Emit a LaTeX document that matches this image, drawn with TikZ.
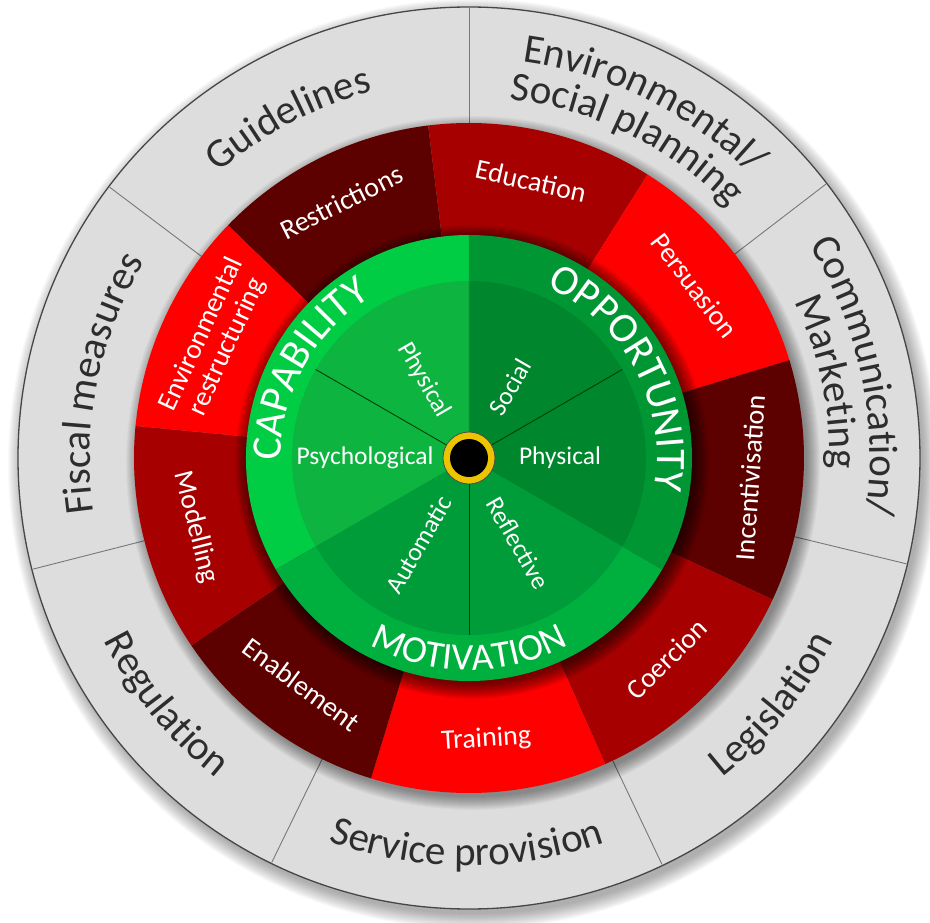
\documentclass[tikz,border=0pt]{standalone}
\usepackage{fontspec}
\setmainfont{Carlito}
\usetikzlibrary{decorations.text}
\definecolor{greyring}{RGB}{221,221,221}
\definecolor{greyedge}{RGB}{70,70,70}
\definecolor{sepgrey}{RGB}{120,120,120}
\definecolor{rdark}{RGB}{92,0,0}
\definecolor{rmed}{RGB}{166,0,0}
\definecolor{rbright}{RGB}{255,0,0}
\definecolor{capband}{RGB}{0,204,68}
\definecolor{capin}{RGB}{14,180,64}
\definecolor{oppband}{RGB}{0,150,52}
\definecolor{oppin}{RGB}{0,134,44}
\definecolor{motband}{RGB}{0,176,62}
\definecolor{motin}{RGB}{0,156,58}
\definecolor{txtdark}{RGB}{45,45,45}
\definecolor{dotyellow}{RGB}{236,196,0}
\newcommand{\olfont}{\fontsize{41}{41}\selectfont\color{txtdark}}
\newcommand{\bdfont}{\fontsize{42}{42}\selectfont\color{white}}
\newcommand{\mtfont}{\fontsize{38}{38}\selectfont\color{white}}
\newcommand{\annsector}[5]{\fill[#5] (#1:#3) arc[start angle=#1,end angle=#2,radius=#3] -- (#2:#4) arc[start angle=#2,end angle=#1,radius=#4] -- cycle;}
\begin{document}
\begin{tikzpicture}[x=1pt,y=1pt,
  redlbl/.style={text=white,font=\fontsize{28}{29}\selectfont,inner sep=0pt,align=center},
  inlbl/.style={text=white,font=\fontsize{25.5}{26}\selectfont,inner sep=0pt},
  sepline/.style={draw=sepgrey,line width=0.9pt},
  inline/.style={draw=black!75!green,line width=0.9pt},
  curved/.style={decorate,decoration={text along path,text align=center,text={#1}}}]
\useasboundingbox (-469,-464) rectangle (461,458);
% outer shadow
\foreach \k in {1,...,16} \fill[black,opacity=0.022] (4,-6) circle (449+\k);
% grey ring
\fill[greyring] (0,0) circle (451);
\draw[greyedge,line width=1.3pt] (0,0) circle (451);
% separators
\foreach \a in {90,37.5,-13.6,-64.6,-116,-165.7,143}
  \draw[sepline] (\a:335) -- (\a:450);
% red ring shadow
\foreach \k in {1,...,14} \fill[black,opacity=0.03] (4,-5) circle (333+\k);
% red ring
\annsector{136}{97}{120}{335}{rdark}
\annsector{97}{57.8}{120}{335}{rmed}
\annsector{57.8}{17}{120}{335}{rbright}
\annsector{17}{-25}{120}{335}{rdark}
\annsector{-25}{-66}{120}{335}{rmed}
\annsector{-66}{-107}{120}{335}{rbright}
\annsector{-107}{-146}{120}{335}{rdark}
\annsector{-146}{-185.5}{120}{335}{rmed}
\annsector{174.5}{136}{120}{335}{rbright}
% green shadow
\foreach \k in {1,...,16} \fill[black,opacity=0.045] (3,-4) circle (221+\k);
% green bands
\annsector{90}{210}{0}{223}{capband}
\annsector{-30}{90}{0}{223}{oppband}
\annsector{210}{330}{0}{223}{motband}
\annsector{90}{210}{0}{177}{capin}
\annsector{-30}{90}{0}{177}{oppin}
\annsector{210}{330}{0}{177}{motin}
\draw[inline] (0,0) -- (150:177);
\draw[inline] (0,0) -- (30:177);
\draw[inline] (0,0) -- (270:177);
\draw[draw=black!40!green,line width=0.6pt] (0,0) -- (90:177);
% centre dot
\fill[dotyellow] (0,0) circle (26);
\draw[black!70,line width=0.8pt] (0,0) circle (26);
\fill[black] (0,0) circle (19);
% red labels
\node[redlbl,rotate=26.5] (restr) at (116.5:286) {Restrictions};
\node[redlbl,rotate=-12.6] (educ) at (77.4:284) {Education};
\node[redlbl,rotate=-52.6] (pers) at (37.4:284) {Persuasion};
\node[redlbl,rotate=86] (incent) at (-4:282) {Incentivisation};
\node[redlbl,rotate=44.5] (coer) at (-45.5:282) {Coercion};
\node[redlbl,rotate=3.5] (train) at (-86.5:282) {Training};
\node[redlbl,rotate=-36.5] (enab) at (-126.5:282) {Enablement};
\node[redlbl,rotate=-75.75] (model) at (194.25:282) {Modelling};
\node[redlbl,rotate=65.25] (envr) at (155.25:280) {Environmental\\restructuring};
% inner labels
\node[inlbl,rotate=-60] (cphys) at (120:90) {Physical};
\node[inlbl,rotate=60] (osoc) at (60:82) {Social};
\node[inlbl] (ophys) at (0:91) {Physical};
\node[inlbl,rotate=-60] (mrefl) at (-60:98) {Reflective};
\node[inlbl,rotate=60] (mauto) at (240:100) {Automatic};
\node[inlbl] (cpsy) at (180:104) {Psychological};
% band labels
\path[curved={|\bdfont|CAPABILITY}] (201:188) arc[start angle=201,end angle=101,radius=188];
\path[curved={|\bdfont|OPPORTUNITY}] (78:188) arc[start angle=78,end angle=-22,radius=188];
\path[curved={|\mtfont|MOTIVATION}] (215:212) arc[start angle=215,end angle=325,radius=212];
% outer labels
\path[curved={|\olfont|Guidelines}] (158:379) arc[start angle=158,end angle=78,radius=379];
\path[curved={|\olfont|Fiscal measures}] (208.6:379) arc[start angle=208.6,end angle=128.6,radius=379];
\path[curved={|\olfont|Environmental/}] (108.75:400) arc[start angle=108.75,end angle=18.75,radius=400];
\path[curved={|\olfont|Social planning}] (108.75:361) arc[start angle=108.75,end angle=18.75,radius=361];
\path[curved={|\olfont|Communication/}] (57:401) arc[start angle=57,end angle=-33,radius=401];
\path[curved={|\olfont|Marketing}] (57:361) arc[start angle=57,end angle=-33,radius=361];
\path[curved={|\olfont|Legislation}] (-84.1:408) arc[start angle=-84.1,end angle=5.9,radius=408];
\path[curved={|\olfont|Service provision}] (-140.3:408) arc[start angle=-140.3,end angle=-40.3,radius=408];
\path[curved={|\olfont|Regulation}] (-185.85:408) arc[start angle=-185.85,end angle=-95.85,radius=408];
\end{tikzpicture}
\end{document}
